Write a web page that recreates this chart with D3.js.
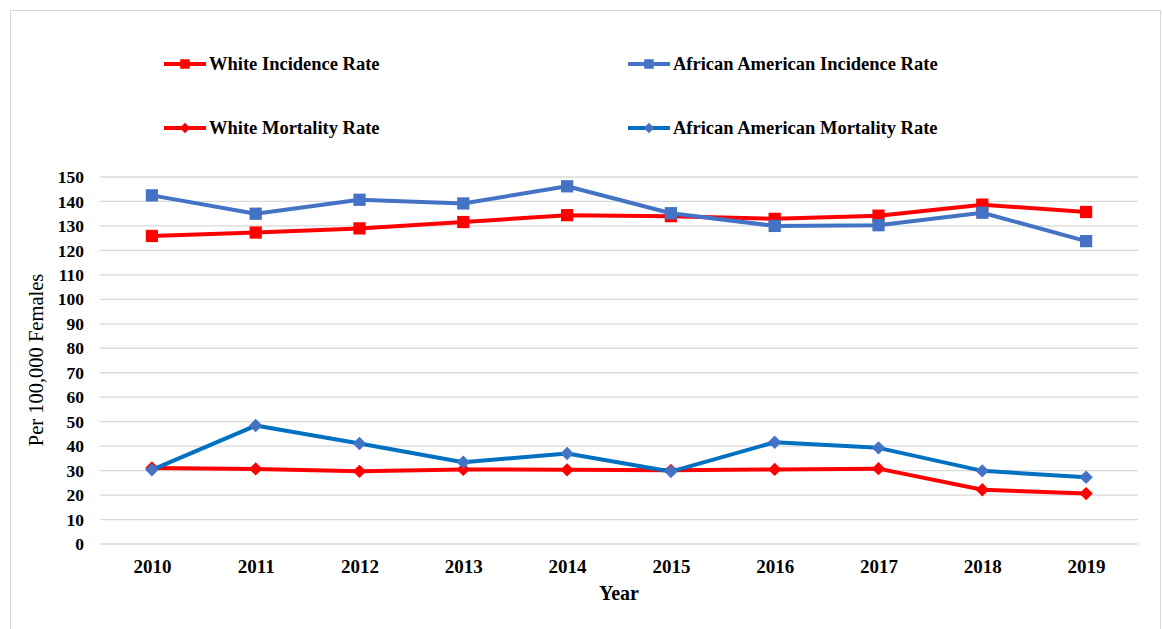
<!DOCTYPE html>
<html>
<head>
<meta charset="utf-8">
<script src="https://cdn.jsdelivr.net/npm/d3@7"></script>
<style>
  body { margin: 0; background: #fff; }
  text { font-family: "Liberation Serif", "DejaVu Serif", serif; }
</style>
</head>
<body>
<svg width="1162" height="629"></svg>
<script>
var years = [2010, 2011, 2012, 2013, 2014, 2015, 2016, 2017, 2018, 2019];
var whiteIncidence = [125.9, 127.3, 129.0, 131.6, 134.4, 134.0, 132.9, 134.2, 138.7, 135.7];
var aaIncidence = [142.5, 135.0, 140.7, 139.2, 146.2, 135.2, 130.0, 130.3, 135.4, 123.8];
var whiteMortality = [31.1, 30.7, 29.7, 30.5, 30.3, 30.1, 30.5, 30.8, 22.2, 20.6];
var aaMortality = [30.3, 48.4, 41.1, 33.4, 37.0, 29.6, 41.6, 39.3, 29.9, 27.3];
var yTicks = d3.range(0, 151, 10);

// diamonds are drawn as squares turned 45 degrees
var series = [
  { name: 'White Incidence Rate', values: whiteIncidence, line: '#ff0000', fill: '#ff0000', rot: 0, size: 150, col: 0, row: 0 },
  { name: 'African American Incidence Rate', values: aaIncidence, line: '#4472c4', fill: '#4472c4', rot: 0, size: 150, col: 1, row: 0 },
  { name: 'White Mortality Rate', values: whiteMortality, line: '#ff0000', fill: '#ff0000', rot: 45, size: 90, col: 0, row: 1 },
  { name: 'African American Mortality Rate', values: aaMortality, line: '#0070c0', fill: '#4472c4', rot: 45, size: 90, col: 1, row: 1 }
];

var svg = d3.select('svg');

// outer frame
svg.append('rect')
  .attr('x', 10.5).attr('y', 10.5)
  .attr('width', 1150).attr('height', 630)
  .attr('fill', 'none').attr('stroke', '#d9d9d9');

var x = d3.scalePoint().domain(years).range([100, 1138]).padding(0.5);
var y = d3.scaleLinear().domain([0, 150]).range([544, 177]);

// gridlines
svg.append('g')
  .selectAll('line')
  .data(yTicks)
  .enter()
  .append('line')
  .attr('x1', 100).attr('x2', 1138)
  .attr('y1', function(d) { return y(d); })
  .attr('y2', function(d) { return y(d); })
  .attr('stroke', '#d9d9d9')
  .attr('stroke-width', 1.3);

// y axis labels
var yAxis = svg.append('g')
  .attr('transform', 'translate(84,0)')
  .call(d3.axisLeft(y).tickValues(yTicks).tickSize(0).tickPadding(0));
yAxis.select('.domain').remove();
yAxis.selectAll('text')
  .attr('font-family', '"Liberation Serif", serif')
  .attr('font-size', 17.5)
  .attr('font-weight', 'bold')
  .attr('fill', '#000');

// x axis labels
var xAxis = svg.append('g')
  .attr('transform', 'translate(0,559.5)')
  .call(d3.axisBottom(x).tickSize(0).tickPadding(0).tickFormat(d3.format('d')));
xAxis.select('.domain').remove();
xAxis.selectAll('text')
  .attr('font-family', '"Liberation Serif", serif')
  .attr('font-size', 19)
  .attr('font-weight', 'bold')
  .attr('fill', '#000');

// axis titles
svg.append('text')
  .attr('x', 619).attr('y', 600)
  .attr('text-anchor', 'middle')
  .attr('font-size', 20)
  .attr('font-weight', 'bold')
  .text('Year');

svg.append('text')
  .attr('transform', 'translate(43,360) rotate(-90)')
  .attr('text-anchor', 'middle')
  .attr('font-size', 20.5)
  .text('Per 100,000 Females');

var line = d3.line()
  .x(function(d, i) { return x(years[i]); })
  .y(function(d) { return y(d); });

var groups = svg.selectAll('.series')
  .data(series)
  .enter()
  .append('g')
  .attr('class', 'series');

groups.append('path')
  .attr('d', function(d) { return line(d.values); })
  .attr('fill', 'none')
  .attr('stroke', function(d) { return d.line; })
  .attr('stroke-width', 4)
  .attr('stroke-linejoin', 'round');

groups.each(function(s) {
  d3.select(this).selectAll('path.mark')
    .data(s.values)
    .enter()
    .append('path')
    .attr('class', 'mark')
    .attr('transform', function(d, i) { return 'translate(' + x(years[i]) + ',' + y(d) + ') rotate(' + s.rot + ')'; })
    .attr('d', d3.symbol().type(d3.symbolSquare).size(s.size))
    .attr('fill', s.fill);
});

// legend
var legend = svg.append('g');
var lg = legend.selectAll('g')
  .data(series)
  .enter()
  .append('g')
  .attr('transform', function(d) { return 'translate(' + (d.col ? 628 : 164) + ',' + (d.row ? 128 : 64) + ')'; });
lg.append('line')
  .attr('x1', 0).attr('x2', 42)
  .attr('stroke', function(d) { return d.line; })
  .attr('stroke-width', 4);
lg.append('path')
  .attr('transform', function(d) { return 'translate(21,0) rotate(' + d.rot + ')'; })
  .attr('d', function(d) { return d3.symbol().type(d3.symbolSquare).size(d.size * 0.6)(); })
  .attr('fill', function(d) { return d.fill; });
lg.append('text')
  .attr('x', 45).attr('y', 6)
  .attr('font-size', 18.5)
  .attr('font-weight', 'bold')
  .text(function(d) { return d.name; });
</script>
</body>
</html>
